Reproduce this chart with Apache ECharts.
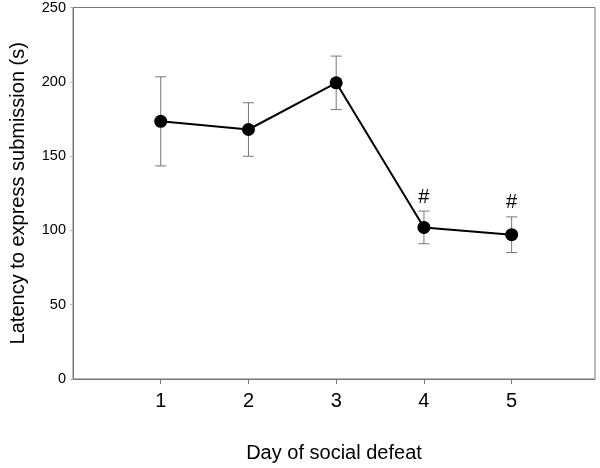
<!DOCTYPE html>
<html>
<head>
<meta charset="utf-8">
<script src="https://cdn.jsdelivr.net/npm/echarts@6/dist/echarts.min.js"></script>
<style>html,body{margin:0;padding:0;background:#fff}#c{width:600px;height:468px}</style>
</head>
<body>
<div id="c"></div>
<script>
const days = [1, 2, 3, 4, 5];
const latency = [173.4, 167.9, 199.3, 102, 97.1];
const sem = [30, 18, 18, 11, 12];
const marks = ['', '', '', '#', '#'];
const yTicks = [0, 50, 100, 150, 200, 250];

const chart = echarts.init(document.getElementById('c'));
const font = 'Liberation Sans, Arial, sans-serif';
const lineData = days.map((d, i) => [d, latency[i]]);
const errData = days.map((d, i) => [d, latency[i] - sem[i], latency[i] + sem[i], marks[i]]);

chart.setOption({
  animation: false,
  backgroundColor: '#fff',
  grid: { left: 64, top: 6, right: 5, bottom: 87, show: true, borderColor: '#777', borderWidth: 1 },
  xAxis: {
    type: 'value', min: 0, max: 5.95, interval: 1,
    name: 'Day of social defeat', nameLocation: 'middle', nameGap: 64,
    nameTextStyle: { fontFamily: font, fontSize: 20, color: '#000' },
    axisLine: { show: true, lineStyle: { color: '#777', width: 1 } },
    axisTick: { show: true, length: 5, inside: false, customValues: days, lineStyle: { color: '#777' } },
    axisLabel: { customValues: days, margin: 12, fontFamily: font, fontSize: 20, color: '#000' },
    splitLine: { show: false }
  },
  yAxis: {
    type: 'value', min: 0, max: 250, interval: 50,
    name: 'Latency to express submission (s)', nameLocation: 'middle', nameGap: 45,
    nameTextStyle: { fontFamily: font, fontSize: 20, color: '#000' },
    axisLine: { show: true, lineStyle: { color: '#777', width: 1 } },
    axisTick: { show: true, length: 3, lineStyle: { color: '#bbb' } },
    axisLabel: { customValues: yTicks, margin: 7, fontFamily: font, fontSize: 14.5, color: '#000' },
    splitLine: { show: false }
  },
  series: [
    {
      type: 'custom',
      data: errData,
      z: 1,
      renderItem: function (params, api) {
        const x = api.value(0);
        const lo = api.coord([x, api.value(1)]);
        const hi = api.coord([x, api.value(2)]);
        const cap = 5.5;
        const st = { stroke: '#777', lineWidth: 1 };
        const children = [
          { type: 'line', shape: { x1: lo[0], y1: lo[1], x2: hi[0], y2: hi[1] }, style: st },
          { type: 'line', shape: { x1: lo[0] - cap, y1: lo[1], x2: lo[0] + cap, y2: lo[1] }, style: st },
          { type: 'line', shape: { x1: hi[0] - cap, y1: hi[1], x2: hi[0] + cap, y2: hi[1] }, style: st }
        ];
        const m = errData[params.dataIndex][3];
        if (m) {
          children.push({ type: 'text', x: hi[0], y: hi[1] - 4,
            style: { text: m, fontFamily: font, fontSize: 20, fill: '#000', align: 'center', verticalAlign: 'bottom' } });
        }
        return { type: 'group', children: children };
      }
    },
    {
      type: 'line',
      data: lineData,
      z: 3,
      symbol: 'circle',
      symbolSize: 13,
      itemStyle: { color: '#000' },
      lineStyle: { color: '#000', width: 2 }
    }
  ]
});
</script>
</body>
</html>
